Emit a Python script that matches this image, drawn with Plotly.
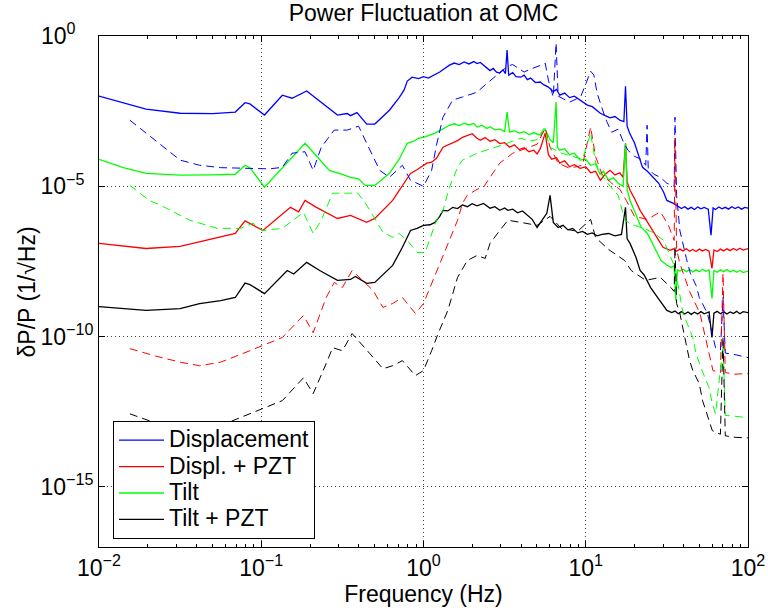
import numpy as np
import plotly.graph_objects as go

# Each series: (log10 frequency [Hz], log10 dP/P [1/sqrt(Hz)])
disp_solid = [(-2.00,-2.00),(-1.85,-2.22),(-1.71,-2.43),(-1.50,-2.57),(-1.30,-2.58),(-1.16,-2.53),(-1.10,-2.22),(-1.07,-2.26),
    (-0.98,-2.63),(-0.87,-1.97),(-0.81,-2.07),(-0.72,-1.83),(-0.62,-2.25),(-0.53,-2.63),(-0.47,-2.58),(-0.45,-2.65),(-0.41,-2.55),
    (-0.35,-2.93),(-0.30,-2.93),(-0.21,-2.47),(-0.15,-2.05),(-0.12,-1.80),(-0.10,-1.50),(-0.07,-1.37),(-0.03,-1.42),(0.00,-1.35),
    (0.03,-1.40),(0.07,-1.30),(0.10,-1.20),(0.13,-1.08),(0.16,-0.97),(0.19,-0.90),(0.22,-0.95),(0.25,-0.86),(0.28,-0.93),(0.31,-0.85),
    (0.33,-0.92),(0.35,-0.88),(0.37,-0.98),(0.39,-1.05),(0.41,-1.15),(0.43,-1.08),(0.45,-1.20),(0.47,-1.23),(0.49,-1.12),(0.505,-1.25),
    (0.515,-0.47),(0.525,-1.30),(0.55,-1.22),(0.57,-1.35),(0.60,-1.37),(0.62,-1.30),(0.64,-1.45),(0.66,-1.40),(0.69,-1.55),(0.72,-1.53),
    (0.74,-1.62),(0.77,-1.70),(0.80,-1.85),(0.82,-1.78),(0.84,-1.97),(0.87,-1.90),(0.90,-2.05),(0.93,-2.00),(0.965,-2.13),(0.99,-2.20),
    (1.01,-2.30),(1.04,-2.35),(1.07,-2.50),(1.09,-2.57),(1.12,-2.65),(1.15,-2.72),(1.18,-2.68),(1.21,-2.80),(1.235,-2.85),(1.245,-1.67),
    (1.255,-3.00),(1.27,-3.23),(1.30,-3.55),(1.33,-4.00),(1.35,-4.37),(1.38,-4.50),(1.415,-4.70),(1.45,-4.90),(1.48,-5.20),(1.50,-5.47),
    (1.54,-5.57),(1.57,-5.68),(1.59,-5.74),(1.61,-5.68),(1.63,-5.76),(1.65,-5.70),(1.67,-5.77),(1.69,-5.69),(1.71,-5.75),(1.73,-5.70),
    (1.755,-5.76),(1.772,-6.63),(1.785,-5.72),(1.80,-5.77),(1.82,-5.69),(1.84,-5.75),(1.86,-5.70),(1.88,-5.76),(1.90,-5.68),
    (1.92,-5.74),(1.94,-5.69),(1.96,-5.76),(1.98,-5.70),(2.00,-5.73)]

displ_pzt_solid = [(-2.00,-6.90),(-1.85,-7.00),(-1.71,-7.07),(-1.50,-7.00),(-1.38,-6.85),(-1.25,-6.70),(-1.16,-6.57),(-1.10,-6.15),
    (-1.07,-6.23),(-0.99,-6.47),(-0.82,-5.70),(-0.77,-5.85),(-0.73,-5.47),(-0.66,-5.70),(-0.53,-6.07),(-0.45,-5.97),(-0.35,-6.20),
    (-0.30,-6.07),(-0.19,-5.47),(-0.13,-5.00),(-0.08,-4.57),(-0.04,-4.45),(0.02,-4.23),(0.05,-4.20),(0.08,-4.07),(0.12,-3.70),
    (0.15,-3.62),(0.18,-3.55),(0.21,-3.48),(0.24,-3.37),(0.27,-3.32),(0.30,-3.25),(0.33,-3.40),(0.35,-3.47),(0.38,-3.38),(0.41,-3.50),
    (0.44,-3.45),(0.47,-3.58),(0.50,-3.55),(0.53,-3.70),(0.56,-3.62),(0.59,-3.78),(0.62,-3.72),(0.65,-3.85),(0.68,-3.80),(0.70,-3.92),
    (0.72,-3.75),(0.75,-3.23),(0.77,-3.95),(0.79,-4.10),(0.82,-4.05),(0.84,-4.23),(0.87,-4.15),(0.90,-4.35),(0.93,-4.28),(0.965,-4.40),
    (1.00,-4.35),(1.03,-4.55),(1.06,-4.50),(1.09,-4.80),(1.12,-4.60),(1.15,-4.47),(1.18,-4.62),(1.21,-4.55),(1.23,-4.70),(1.245,-3.57),
    (1.255,-4.85),(1.273,-5.13),(1.30,-5.40),(1.335,-5.80),(1.37,-6.10),(1.415,-6.47),(1.45,-6.80),(1.476,-7.03),(1.50,-7.08),
    (1.52,-7.13),(1.54,-7.08),(1.56,-7.16),(1.58,-7.09),(1.60,-7.15),(1.62,-7.08),(1.64,-7.16),(1.66,-7.10),(1.68,-7.17),(1.70,-7.09),
    (1.72,-7.15),(1.74,-7.10),(1.76,-7.16),(1.778,-7.73),(1.79,-7.12),(1.81,-7.17),(1.83,-7.09),(1.85,-7.15),(1.87,-7.08),(1.89,-7.14),
    (1.91,-7.07),(1.93,-7.13),(1.95,-7.06),(1.97,-7.12),(2.00,-7.07)]

tilt_solid = [(-2.00,-4.10),(-1.85,-4.38),(-1.71,-4.57),(-1.50,-4.63),(-1.30,-4.62),(-1.16,-4.60),(-1.10,-4.30),(-1.07,-4.38),
    (-0.98,-5.03),(-0.87,-4.40),(-0.81,-4.05),(-0.73,-3.57),(-0.65,-4.05),(-0.58,-4.47),(-0.50,-4.60),(-0.45,-4.70),(-0.40,-4.75),
    (-0.36,-4.97),(-0.30,-4.97),(-0.21,-4.57),(-0.15,-4.10),(-0.10,-3.57),(-0.06,-3.50),(-0.03,-3.40),(0.00,-3.37),(0.04,-3.30),
    (0.07,-3.23),(0.10,-3.15),(0.13,-3.05),(0.16,-2.97),(0.19,-2.92),(0.22,-2.98),(0.25,-2.90),(0.28,-2.96),(0.31,-2.91),(0.33,-3.03),
    (0.36,-2.97),(0.39,-3.08),(0.41,-3.02),(0.44,-3.12),(0.47,-3.10),(0.50,-3.18),(0.515,-2.53),(0.53,-3.20),(0.56,-3.15),(0.59,-3.23),
    (0.62,-3.18),(0.65,-3.28),(0.68,-3.22),(0.72,-3.30),(0.75,-3.10),(0.78,-3.45),(0.80,-3.55),(0.817,-2.20),(0.825,-3.70),
    (0.84,-3.80),(0.87,-3.75),(0.90,-3.95),(0.93,-3.90),(0.965,-4.13),(1.00,-4.10),(1.03,-4.30),(1.06,-4.25),(1.088,-4.60),
    (1.11,-4.50),(1.14,-4.80),(1.17,-4.72),(1.20,-4.90),(1.23,-5.00),(1.245,-3.57),(1.255,-5.10),(1.273,-5.47),(1.31,-5.95),
    (1.34,-6.35),(1.38,-6.57),(1.42,-7.00),(1.464,-7.47),(1.50,-7.62),(1.525,-7.70),(1.545,-7.65),(1.555,-8.80),(1.565,-7.78),
    (1.58,-7.82),(1.60,-7.76),(1.62,-7.84),(1.64,-7.77),(1.66,-7.85),(1.68,-7.78),(1.70,-7.84),(1.72,-7.76),(1.74,-7.83),(1.76,-7.78),
    (1.778,-8.73),(1.79,-7.80),(1.81,-7.86),(1.83,-7.78),(1.85,-7.84),(1.87,-7.77),(1.89,-7.85),(1.91,-7.79),(1.93,-7.86),(1.95,-7.80),
    (1.97,-7.87),(2.00,-7.82)]

tilt_pzt_solid = [(-2.00,-9.00),(-1.85,-9.08),(-1.71,-9.13),(-1.50,-9.07),(-1.38,-8.90),(-1.25,-8.80),(-1.16,-8.70),(-1.10,-8.22),
    (-1.07,-8.27),(-0.98,-8.57),(-0.84,-7.80),(-0.80,-7.92),(-0.72,-7.53),(-0.64,-7.80),(-0.53,-8.13),(-0.45,-8.10),(-0.42,-8.00),
    (-0.35,-8.23),(-0.30,-8.20),(-0.19,-7.63),(-0.13,-7.03),(-0.08,-6.47),(-0.04,-6.40),(0.00,-6.30),(0.04,-6.28),(0.07,-6.20),
    (0.10,-6.00),(0.12,-5.80),(0.15,-5.82),(0.18,-5.70),(0.21,-5.74),(0.24,-5.62),(0.27,-5.68),(0.30,-5.58),(0.33,-5.65),(0.37,-5.57),
    (0.39,-5.65),(0.41,-5.73),(0.44,-5.68),(0.47,-5.80),(0.50,-5.72),(0.52,-5.80),(0.55,-5.76),(0.58,-5.88),(0.61,-5.82),(0.64,-5.95),
    (0.67,-6.10),(0.70,-6.37),(0.73,-6.15),(0.76,-5.90),(0.78,-5.30),(0.80,-6.20),(0.83,-6.37),(0.86,-6.30),(0.89,-6.45),(0.92,-6.40),
    (0.95,-6.55),(0.98,-6.50),(1.01,-6.60),(1.04,-6.55),(1.07,-6.65),(1.10,-6.60),(1.14,-6.57),(1.18,-6.65),(1.22,-6.60),(1.245,-5.70),
    (1.255,-6.75),(1.273,-6.90),(1.31,-7.37),(1.335,-7.80),(1.36,-7.95),(1.40,-8.37),(1.45,-8.75),(1.50,-9.13),(1.53,-9.20),
    (1.55,-9.15),(1.57,-9.24),(1.59,-9.17),(1.61,-9.25),(1.63,-9.18),(1.65,-9.26),(1.67,-9.19),(1.69,-9.25),(1.71,-9.17),(1.73,-9.24),
    (1.76,-9.18),(1.778,-10.03),(1.79,-9.22),(1.81,-9.16),(1.83,-9.24),(1.85,-9.17),(1.87,-9.25),(1.89,-9.18),(1.91,-9.23),
    (1.93,-9.16),(1.95,-9.24),(1.97,-9.17),(2.00,-9.20)]

disp_dashed = [(-1.81,-2.80),(-1.71,-3.23),(-1.60,-3.70),(-1.50,-4.13),(-1.38,-4.30),(-1.25,-4.38),(-1.10,-4.40),(-0.95,-4.42),
    (-0.87,-4.37),(-0.81,-3.90),(-0.73,-3.85),(-0.68,-4.47),(-0.63,-3.70),(-0.55,-3.13),(-0.47,-3.13),(-0.40,-3.00),(-0.35,-3.57),
    (-0.27,-4.47),(-0.21,-4.70),(-0.13,-4.30),(-0.08,-4.80),(0.00,-5.00),(0.05,-4.47),(0.08,-3.63),(0.12,-2.70),(0.18,-2.13),
    (0.24,-2.03),(0.28,-1.95),(0.33,-1.87),(0.379,-1.63),(0.42,-1.45),(0.47,-1.25),(0.52,-1.00),(0.55,-0.95),(0.59,-1.08),
    (0.62,-1.20),(0.66,-1.10),(0.69,-1.05),(0.72,-0.98),(0.75,-0.90),(0.77,-1.47),(0.80,-2.03),(0.817,-0.23),(0.83,-2.00),
    (0.87,-2.10),(0.90,-2.20),(0.94,-2.10),(0.97,-2.00),(1.00,-1.60),(1.03,-1.17),(1.05,-1.30),(1.07,-1.90),(1.10,-2.40),
    (1.13,-2.85),(1.16,-3.20),(1.20,-3.10),(1.23,-3.50),(1.26,-3.80),(1.30,-4.00),(1.34,-4.10),(1.37,-4.30),(1.378,-2.97),
    (1.385,-4.40),(1.42,-4.60),(1.46,-4.70),(1.50,-4.90),(1.545,-5.00),(1.55,-2.70),(1.56,-5.30),(1.58,-6.47),(1.62,-7.40),
    (1.645,-7.90),(1.68,-8.30),(1.70,-8.70),(1.75,-9.23),(1.80,-10.37),(1.83,-10.45),(1.846,-8.70),(1.86,-10.55),(1.92,-10.60),
    (2.00,-10.70)]

displ_pzt_dashed = [(-1.81,-10.40),(-1.65,-10.65),(-1.50,-10.85),(-1.38,-10.97),(-1.25,-10.85),(-1.15,-10.65),(-1.07,-10.47),
    (-0.87,-10.03),(-0.74,-9.30),(-0.68,-9.87),(-0.60,-8.70),(-0.55,-8.20),(-0.50,-8.37),(-0.44,-7.80),(-0.31,-8.47),(-0.25,-9.03),
    (-0.19,-8.90),(-0.13,-8.70),(-0.05,-9.23),(0.00,-8.90),(0.05,-8.23),(0.11,-7.47),(0.16,-6.80),(0.21,-6.13),(0.24,-5.57),
    (0.27,-5.30),(0.33,-5.10),(0.37,-5.03),(0.41,-4.70),(0.47,-4.23),(0.55,-3.90),(0.65,-3.70),(0.70,-3.60),(0.75,-3.07),
    (0.78,-3.70),(0.83,-4.23),(0.90,-4.40),(0.98,-4.30),(1.03,-3.03),(1.06,-4.00),(1.10,-4.60),(1.16,-4.90),(1.21,-5.10),
    (1.25,-5.47),(1.30,-6.00),(1.38,-6.10),(1.46,-5.85),(1.51,-6.30),(1.545,-6.80),(1.55,-3.40),(1.56,-7.10),(1.58,-7.57),
    (1.64,-8.50),(1.704,-9.23),(1.747,-10.23),(1.784,-11.13),(1.83,-11.20),(1.846,-7.90),(1.86,-11.20),(1.92,-11.25),(2.00,-11.23)]

tilt_dashed = [(-1.81,-4.97),(-1.69,-5.47),(-1.62,-5.63),(-1.44,-6.13),(-1.27,-6.40),(-1.13,-6.40),(-1.05,-6.23),(-0.99,-6.47),
    (-0.87,-6.40),(-0.74,-5.87),(-0.68,-6.57),(-0.63,-6.13),(-0.56,-5.23),(-0.45,-5.23),(-0.41,-5.20),(-0.37,-5.47),(-0.33,-5.80),
    (-0.25,-6.53),(-0.19,-6.70),(-0.15,-6.57),(-0.10,-6.80),(-0.04,-7.20),(0.01,-7.20),(0.04,-6.73),(0.08,-6.13),(0.12,-5.80),
    (0.16,-5.03),(0.21,-4.37),(0.24,-4.13),(0.33,-3.90),(0.39,-3.80),(0.45,-3.70),(0.50,-3.60),(0.55,-3.50),(0.60,-3.40),(0.65,-3.50),
    (0.70,-3.45),(0.743,-3.07),(0.78,-3.70),(0.85,-3.90),(0.92,-4.00),(0.98,-4.10),(1.03,-3.23),(1.06,-4.20),(1.09,-4.57),(1.15,-5.00),
    (1.20,-5.30),(1.24,-6.13),(1.30,-6.30),(1.36,-6.40),(1.42,-6.55),(1.48,-6.80),(1.55,-7.70),(1.58,-8.57),(1.60,-9.23),(1.66,-10.03),
    (1.68,-10.57),(1.717,-11.13),(1.76,-11.70),(1.78,-12.23),(1.80,-12.57),(1.846,-10.30),(1.86,-12.62),(1.92,-12.65),(2.00,-12.70)]

tilt_pzt_dashed = [(-1.81,-12.57),(-1.69,-12.80),(-1.50,-13.00),(-1.35,-13.00),(-1.20,-12.85),(-1.07,-12.57),(-0.87,-12.13),
    (-0.74,-11.37),(-0.68,-11.90),(-0.60,-10.90),(-0.56,-10.37),(-0.50,-10.47),(-0.44,-9.90),(-0.33,-10.57),(-0.25,-11.07),
    (-0.19,-10.97),(-0.13,-10.80),(-0.05,-11.30),(0.00,-11.13),(0.05,-10.47),(0.09,-9.90),(0.15,-9.13),(0.21,-8.03),(0.27,-7.47),
    (0.33,-7.30),(0.38,-7.40),(0.41,-6.90),(0.47,-6.47),(0.52,-6.13),(0.60,-6.20),(0.70,-6.30),(0.78,-6.00),(0.85,-6.40),(0.95,-6.50),
    (1.03,-6.10),(1.06,-6.70),(1.14,-7.10),(1.24,-7.47),(1.28,-7.80),(1.37,-8.13),(1.46,-8.03),(1.525,-8.37),(1.545,-8.50),(1.55,-7.00),
    (1.56,-8.90),(1.58,-9.23),(1.64,-10.80),(1.66,-11.13),(1.70,-11.57),(1.72,-12.13),(1.76,-12.80),(1.78,-13.13),(1.83,-13.25),
    (1.846,-10.00),(1.86,-13.30),(1.92,-13.35),(2.00,-13.37)]

legend_names = ["Displacement", "Displ. + PZT", "Tilt", "Tilt + PZT"]
colors = ["#0000FF", "#FF0000", "#00FF00", "#000000"]
solid_series = [disp_solid, displ_pzt_solid, tilt_solid, tilt_pzt_solid]
dashed_series = [disp_dashed, displ_pzt_dashed, tilt_dashed, tilt_pzt_dashed]

x_tick_exps = [-2, -1, 0, 1, 2]
y_tick_exps = [-15, -10, -5, 0]

def unpack(series):
    arr = np.array(series)
    return np.power(10.0, arr[:, 0]), np.power(10.0, arr[:, 1])

fig = go.Figure()
for name, col, ser in zip(legend_names, colors, solid_series):
    fx, fy = unpack(ser)
    fig.add_trace(go.Scatter(x=fx, y=fy, mode="lines",
                             name="<span style='font-size:23px'>" + name + "</span>",
                             line=dict(color=col, width=1.3)))
for col, ser in zip(colors, dashed_series):
    fx, fy = unpack(ser)
    fig.add_trace(go.Scatter(x=fx, y=fy, mode="lines", showlegend=False,
                             line=dict(color=col, width=1, dash="8px,5px")))

def sup(e, pad=0):
    s = str(e).replace("-", "\u2212")
    return "10<sup>" + s + "\u00a0" * pad + "</sup>"

minor_x = [k * 10.0 ** e for e in range(-2, 2) for k in range(2, 10)]
font_family = "Liberation Sans, Arial, Helvetica, sans-serif"
FS = 23

fig.update_xaxes(type="log", range=[-2, 2], automargin=False,
                 tickvals=[10.0 ** e for e in x_tick_exps],
                 ticktext=[sup(e) for e in x_tick_exps],
                 ticks="inside", ticklen=6, tickcolor="black", tickwidth=1,
                 showline=True, linecolor="black", linewidth=1, mirror="ticks",
                 showgrid=True, gridcolor="#444444", griddash="1px,3px", gridwidth=1,
                 zeroline=False,
                 minor=dict(tickvals=minor_x, ticks="inside", ticklen=3, tickcolor="black", showgrid=False),
                 tickfont=dict(size=FS, family=font_family, color="black"),
                 title=dict(text="Frequency (Hz)", font=dict(size=FS, family=font_family, color="black"), standoff=2))

pads = {-15: 0, -10: 0, -5: 2, 0: 4}
fig.update_yaxes(type="log", range=[-17, 0], automargin=False,
                 tickvals=[10.0 ** e for e in y_tick_exps],
                 ticktext=[sup(e, pads[e]) for e in y_tick_exps],
                 ticks="inside", ticklen=6, tickcolor="black", tickwidth=1,
                 showline=True, linecolor="black", linewidth=1, mirror="ticks",
                 showgrid=True, gridcolor="#444444", griddash="1px,3px", gridwidth=1,
                 zeroline=False,
                 tickfont=dict(size=FS, family=font_family, color="black"))

fig.add_annotation(text="\u03b4P/P (1/\u221aHz)", textangle=-90, showarrow=False,
                   xref="paper", yref="paper", x=-0.111, y=0.5,
                   xanchor="center", yanchor="middle",
                   font=dict(size=FS, family=font_family, color="black"))

fig.update_layout(
    width=768, height=615,
    margin=dict(l=99, r=20, t=36, b=68, autoexpand=False),
    paper_bgcolor="white", plot_bgcolor="white",
    font=dict(family=font_family, size=FS, color="black"),
    title=dict(text="Power Fluctuation at OMC", x=0.5, xref="paper", xanchor="center",
               y=1.0, yref="container", yanchor="top", pad=dict(t=5),
               font=dict(size=FS, family=font_family, color="black")),
    legend=dict(x=0.0216, y=0.2466, xanchor="left", yanchor="top",
                bordercolor="black", borderwidth=1, bgcolor="white",
                font=dict(size=18, family=font_family, color="black"),
                tracegroupgap=0, itemwidth=45),
    showlegend=True,
)

fig.write_html("out.html")
